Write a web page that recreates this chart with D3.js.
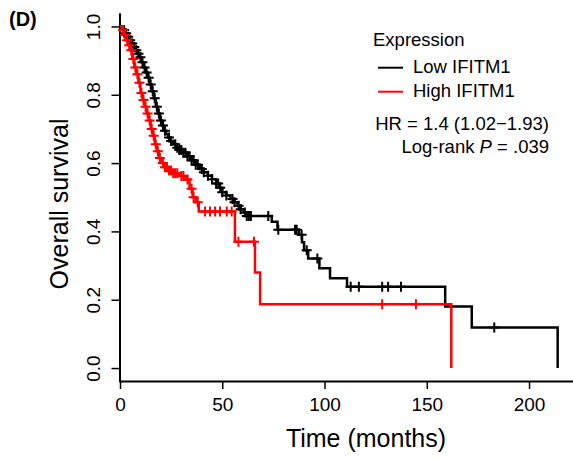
<!DOCTYPE html>
<html>
<head>
<meta charset="utf-8">
<script src="https://cdn.jsdelivr.net/npm/d3@7"></script>
<style>
  html, body { margin: 0; padding: 0; background: #fff; }
  svg { display: block; font-family: 'Liberation Sans', Arial, sans-serif; }
</style>
</head>
<body>
<svg id="chart" width="573" height="460"></svg>
<script>
// Kaplan-Meier steps (time in months, survival)
var lowTimes = [0, 1.5, 2.5, 3.5, 4.5, 5.5, 6.5, 7.5, 8.5, 9.5, 10.5, 11.5, 12.5, 13.5, 14.5, 15.5, 16.5, 17.5, 18.5, 19.5,
  20.5, 21.5, 22.5, 23.5, 24.5, 26, 27.5, 29, 31, 33, 35, 37, 39, 41, 43, 45, 47, 48.5, 50, 52, 54, 56, 57.5, 59, 60.5, 62,
  74.2, 77, 87.5, 89, 90, 92, 97.5, 102.7, 111, 159, 172, 214]
var lowSurv = [1, 0.99, 0.98, 0.97, 0.96, 0.95, 0.94, 0.93, 0.92, 0.91, 0.895, 0.88, 0.865, 0.85, 0.83, 0.81, 0.79, 0.765, 0.745, 0.725,
  0.71, 0.695, 0.685, 0.675, 0.665, 0.655, 0.645, 0.638, 0.63, 0.62, 0.608, 0.595, 0.583, 0.573, 0.563, 0.553, 0.54, 0.528, 0.515, 0.505, 0.495, 0.485, 0.475, 0.465, 0.455, 0.445,
  0.428, 0.405, 0.39, 0.368, 0.345, 0.321, 0.292, 0.263, 0.238, 0.18, 0.119, 0]
var lowCensor = [2, 3, 4, 5, 6, 7, 8, 9, 10, 11, 12, 13, 14, 15, 16, 17, 18, 19, 20, 21, 22, 24, 25, 27, 28, 29, 30, 31, 32, 33, 34,
  35, 36, 37, 38, 40, 41, 43, 45, 47, 48, 49, 50, 52, 55, 56, 58, 59, 61, 62, 63, 64, 72.5, 77.4, 85.6, 86.4, 88.8, 91.3, 96.5,
  112.8, 116.8, 128.2, 131.1, 137.4, 183]

var highTimes = [0, 1, 2, 3, 4, 5, 6, 7, 8, 9, 10, 11, 12, 13, 14, 15, 16, 17, 18, 19, 20, 22, 24, 26, 29, 32, 34, 35.5, 37, 38.5,
  56.2, 66, 68.5, 162]
var highSurv = [1, 0.99, 0.975, 0.96, 0.945, 0.93, 0.905, 0.88, 0.86, 0.835, 0.805, 0.785, 0.765, 0.745, 0.725, 0.7, 0.68, 0.655, 0.635, 0.615,
  0.6, 0.588, 0.578, 0.57, 0.562, 0.552, 0.525, 0.5, 0.485, 0.458, 0.37, 0.28, 0.187, 0]
var highCensor = [1.5, 2.5, 3.5, 4.5, 5.5, 6.5, 7.5, 8.5, 9.5, 10.5, 11.5, 12.5, 13.5, 14.5, 15.5, 16.5, 17.5, 18.5, 19.5, 21, 22, 23,
  24, 25, 26, 27, 28, 30, 31, 33, 35, 36, 38, 41.6, 44, 46.5, 48.9, 52.2, 54.6, 57.9, 65.5, 128.2, 144.7]

var xTicks = [0, 50, 100, 150, 200]
var yTicks = [0, 0.2, 0.4, 0.6, 0.8, 1.0]

var groups = [
  { name: 'Low IFITM1', color: '#000000', times: lowTimes, surv: lowSurv, censor: lowCensor },
  { name: 'High IFITM1', color: '#ff0000', times: highTimes, surv: highSurv, censor: highCensor }
]

var svg = d3.select('#chart')

var x = d3.scaleLinear().domain([0, 221.5]).range([120, 573])
var y = d3.scaleLinear().domain([-0.04, 1.04]).range([381.7, 12.8])

// axes (R style, L shaped box)
var xAxis = svg.append('g')
  .attr('transform', 'translate(0,381)')
  .call(d3.axisBottom(x).tickValues(xTicks).tickFormat(d3.format('d')).tickSize(8).tickSizeOuter(0))
xAxis.select('.domain').attr('stroke-width', 2)
xAxis.selectAll('.tick line').attr('stroke-width', 1.5)
xAxis.selectAll('.tick text')
  .attr('y', 17)
  .attr('font-size', '19px')
  .attr('font-family', 'Liberation Sans, Arial, sans-serif')
  .attr('fill', '#000')

var yAxis = svg.append('g')
  .attr('transform', 'translate(119.5,0)')
  .call(d3.axisLeft(y).tickValues(yTicks).tickFormat(d3.format('.1f')).tickSize(8).tickSizeOuter(0))
yAxis.select('.domain').attr('stroke-width', 2)
yAxis.selectAll('.tick line').attr('stroke-width', 1.5)
yAxis.selectAll('.tick text')
  .attr('x', null).attr('dy', null)
  .attr('transform', 'translate(-19.5,0) rotate(-90)')
  .attr('text-anchor', 'middle')
  .attr('font-size', '19px')
  .attr('font-family', 'Liberation Sans, Arial, sans-serif')
  .attr('fill', '#000')

// curves
var line = d3.line()
  .x(function(d) { return x(d[0]) })
  .y(function(d) { return y(d[1]) })
  .curve(d3.curveStepAfter)

groups.forEach(function(g) {
  var pts = g.times.map(function(t, i) { return [t, g.surv[i]] })
  svg.append('path')
    .attr('d', line(pts))
    .attr('fill', 'none')
    .attr('stroke', g.color)
    .attr('stroke-width', 2.5)

  svg.append('g').selectAll('path')
    .data(g.censor)
    .enter().append('path')
    .attr('transform', function(t) {
      var i = d3.bisectRight(g.times, t) - 1
      return 'translate(' + x(t) + ',' + y(g.surv[i]) + ')'
    })
    .attr('d', 'M-5,0H5M0,-5V5')
    .attr('stroke', g.color)
    .attr('stroke-width', 2)
})

// titles
svg.append('text')
  .attr('x', 366).attr('y', 447)
  .attr('text-anchor', 'middle')
  .attr('font-size', '25px')
  .text('Time (months)')

svg.append('text')
  .attr('transform', 'translate(68,204) rotate(-90)')
  .attr('text-anchor', 'middle')
  .attr('font-size', '25px')
  .text('Overall survival')

svg.append('text')
  .attr('x', 9).attr('y', 26)
  .attr('font-size', '20px')
  .attr('font-weight', 'bold')
  .text('(D)')

// legend
var legend = svg.append('g').attr('font-size', '18.5px')
legend.append('text').attr('x', 373).attr('y', 46).text('Expression')
groups.forEach(function(g, i) {
  legend.append('line')
    .attr('x1', 378).attr('x2', 403)
    .attr('y1', 67.7 + i * 24).attr('y2', 67.7 + i * 24)
    .attr('stroke', g.color)
    .attr('stroke-width', 2)
  legend.append('text')
    .attr('x', 413).attr('y', 72.5 + i * 24)
    .text(g.name)
})
legend.append('text')
  .attr('x', 549).attr('y', 130)
  .attr('text-anchor', 'end')
  .text('HR = 1.4 (1.02\u22121.93)')
var lr = legend.append('text')
  .attr('x', 549).attr('y', 153)
  .attr('text-anchor', 'end')
lr.append('tspan').text('Log-rank ')
lr.append('tspan').attr('font-style', 'italic').text('P')
lr.append('tspan').text(' = .039')
</script>
</body>
</html>
